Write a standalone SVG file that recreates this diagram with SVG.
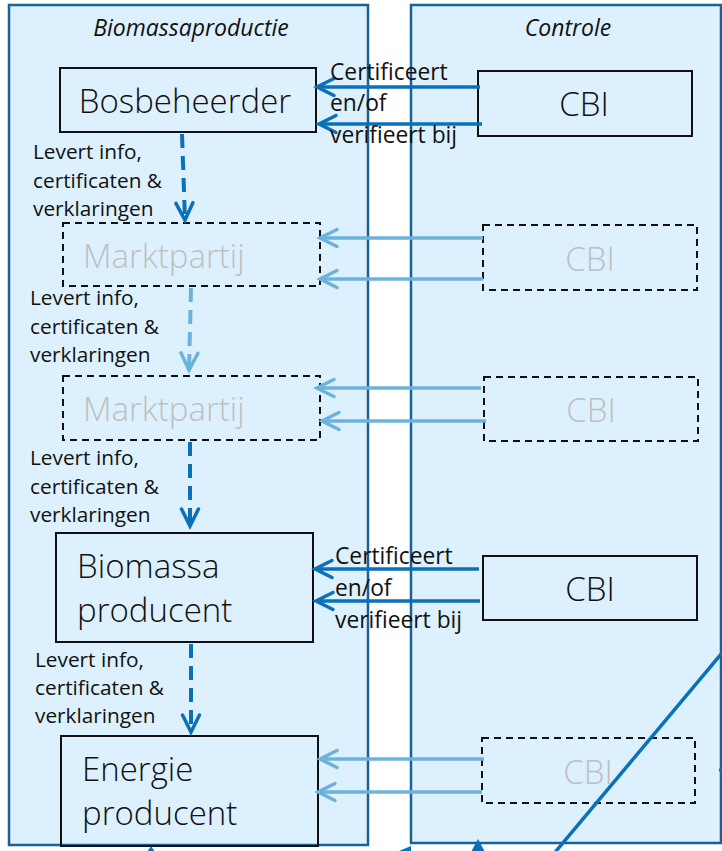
<svg xmlns="http://www.w3.org/2000/svg" width="722" height="851" viewBox="0 0 722 851">
  <style>
    .panel { fill: #ddf0fd; stroke: #1b6194; stroke-width: 2.5; }
    .title { font-family: "Open Sans", "Noto Sans", sans-serif; font-style: italic; font-size: 23px; fill: #111; text-anchor: middle; }
    .box { fill: none; stroke: #111; stroke-width: 2; }
    .dbox { fill: none; stroke: #111; stroke-width: 2; stroke-dasharray: 7 5; }
    .big { font-family: "Open Sans", "Noto Sans", sans-serif; font-weight: 300; font-size: 33px; fill: #111; }
    .bigc { font-family: "Open Sans", "Noto Sans", sans-serif; font-weight: 300; font-size: 33px; fill: #111; text-anchor: middle; }
    .ghost { fill: #bfbfbf; }
    .lbl { font-family: "Open Sans", "Noto Sans", sans-serif; font-size: 20.8px; fill: #111; }
    .lbl2 { font-family: "Open Sans", "Noto Sans", sans-serif; font-size: 22.8px; fill: #111; }
    .dark { stroke: #0a70b8; stroke-width: 3.5; fill: none; }
    .light { stroke: #6cb3dc; stroke-width: 3.5; fill: none; }
    .ddash { stroke: #0a70b8; stroke-width: 4; fill: none; stroke-dasharray: 14 8; }
    .ldash { stroke: #6cb3dc; stroke-width: 4; fill: none; stroke-dasharray: 14 8; }
  </style>
  <defs>
    <marker id="hd" markerUnits="userSpaceOnUse" markerWidth="20" markerHeight="20" refX="0" refY="0" orient="auto" overflow="visible">
      <path d="M -17 -8.5 L 0 0 L -17 8.5" fill="none" stroke="#0a70b8" stroke-width="3.5" stroke-linecap="round" stroke-linejoin="miter" stroke-dasharray="none"/>
    </marker>
    <marker id="hl" markerUnits="userSpaceOnUse" markerWidth="20" markerHeight="20" refX="0" refY="0" orient="auto" overflow="visible">
      <path d="M -17 -8.5 L 0 0 L -17 8.5" fill="none" stroke="#6cb3dc" stroke-width="3.5" stroke-linecap="round" stroke-linejoin="miter" stroke-dasharray="none"/>
    </marker>
  </defs>

  <g id="panel-biomassaproductie">
    <rect class="panel" x="9" y="5" width="359" height="840"/>
    <text class="title" x="191" y="36">Biomassaproductie</text>
  </g>
  <g id="panel-controle">
    <rect class="panel" x="411" y="5" width="310" height="838"/>
    <text class="title" x="568" y="36">Controle</text>
  </g>

  <g id="bosbeheerder">
    <rect class="box" x="60" y="68" width="256" height="64"/>
    <text class="bigc" x="185" y="113">Bosbeheerder</text>
  </g>
  <g id="cbi-1">
    <rect class="box" x="478" y="71" width="214" height="65"/>
    <text class="bigc" x="584" y="116">CBI</text>
  </g>

  <g id="marktpartij-1">
    <rect class="dbox" x="63" y="223" width="257" height="63"/>
    <text class="big ghost" x="83" y="268">Marktpartij</text>
  </g>
  <g id="cbi-2">
    <rect class="dbox" x="483" y="225" width="214" height="65"/>
    <text class="bigc ghost" x="590" y="271">CBI</text>
  </g>

  <g id="marktpartij-2">
    <rect class="dbox" x="63" y="376" width="257" height="64"/>
    <text class="big ghost" x="83" y="421">Marktpartij</text>
  </g>
  <g id="cbi-3">
    <rect class="dbox" x="484" y="377" width="214" height="64"/>
    <text class="bigc ghost" x="591" y="422">CBI</text>
  </g>

  <g id="biomassa-producent">
    <rect class="box" x="56" y="533" width="257" height="109"/>
    <text class="big" x="77" y="578">Biomassa</text>
    <text class="big" x="77" y="622">producent</text>
  </g>
  <g id="cbi-4">
    <rect class="box" x="483" y="556" width="214" height="64"/>
    <text class="bigc" x="590" y="601">CBI</text>
  </g>

  <g id="energie-producent">
    <rect class="box" x="61" y="736" width="257" height="110"/>
    <text class="big" x="82" y="781">Energie</text>
    <text class="big" x="82" y="825">producent</text>
  </g>
  <g id="cbi-5">
    <rect class="dbox" x="482" y="738" width="213" height="65"/>
    <text class="bigc ghost" x="588" y="784">CBI</text>
  </g>

  <g id="connectors">
    <line class="dark" x1="480" y1="87" x2="317" y2="87" marker-end="url(#hd)"/>
    <line class="dark" x1="482" y1="124" x2="319" y2="124" marker-end="url(#hd)"/>
    <line class="light" x1="483" y1="238" x2="320" y2="238" marker-end="url(#hl)"/>
    <line class="light" x1="483" y1="279" x2="320" y2="279" marker-end="url(#hl)"/>
    <line class="light" x1="481" y1="388" x2="317" y2="388" marker-end="url(#hl)"/>
    <line class="light" x1="486" y1="421" x2="322" y2="421" marker-end="url(#hl)"/>
    <line class="dark" x1="479" y1="569" x2="315" y2="569" marker-end="url(#hd)"/>
    <line class="dark" x1="480" y1="601" x2="316" y2="601" marker-end="url(#hd)"/>
    <line class="light" x1="484" y1="759" x2="320" y2="759" marker-end="url(#hl)"/>
    <line class="light" x1="482" y1="792" x2="318" y2="792" marker-end="url(#hl)"/>

    <line class="ddash" x1="182" y1="134" x2="185" y2="220" marker-end="url(#hd)"/>
    <line class="ldash" x1="191" y1="288" x2="189" y2="370" marker-end="url(#hl)"/>
    <line class="ddash" x1="190" y1="442" x2="190" y2="526" marker-end="url(#hd)"/>
    <line class="ddash" x1="191" y1="644" x2="191" y2="732" marker-end="url(#hd)"/>

    <line x1="730" y1="643.5" x2="548" y2="860.7" stroke="#0a70b8" stroke-width="3.5"/>
    <polygon points="478,839 471,852 485,852" fill="#0a70b8"/>
    <polygon points="151,846 147,852 155,852" fill="#0a70b8"/>
    <polygon points="399,851 411,846 411,851" fill="#0a70b8"/>
    <line x1="719" y1="770" x2="722" y2="770" stroke="#0a70b8" stroke-width="3"/>
  </g>

  <g id="labels">
    <text class="lbl2" x="330" y="80">Certificeert</text>
    <text class="lbl2" x="330" y="111">en/of</text>
    <text class="lbl2" x="330" y="143">verifieert bij</text>

    <text class="lbl" x="33" y="159">Levert info,</text>
    <text class="lbl" x="33" y="188">certificaten &amp;</text>
    <text class="lbl" x="33" y="216">verklaringen</text>

    <text class="lbl" x="30" y="305">Levert info,</text>
    <text class="lbl" x="30" y="334">certificaten &amp;</text>
    <text class="lbl" x="30" y="362">verklaringen</text>

    <text class="lbl" x="30" y="465">Levert info,</text>
    <text class="lbl" x="30" y="494">certificaten &amp;</text>
    <text class="lbl" x="30" y="522">verklaringen</text>

    <text class="lbl2" x="335" y="564">Certificeert</text>
    <text class="lbl2" x="335" y="596">en/of</text>
    <text class="lbl2" x="335" y="628">verifieert bij</text>

    <text class="lbl" x="35" y="667">Levert info,</text>
    <text class="lbl" x="35" y="695">certificaten &amp;</text>
    <text class="lbl" x="35" y="723">verklaringen</text>
  </g>
</svg>
